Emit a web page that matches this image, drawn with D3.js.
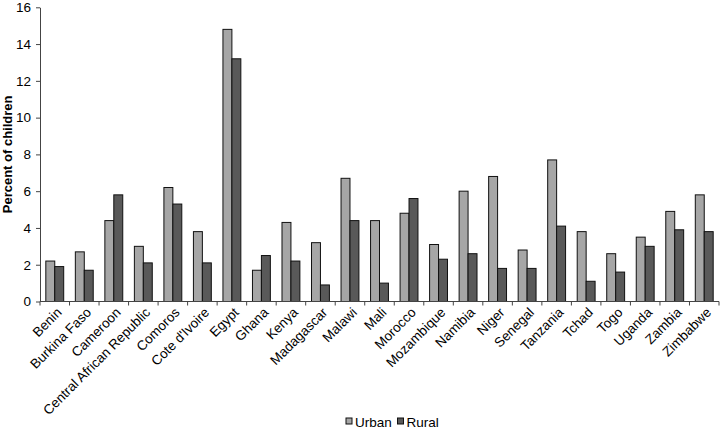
<!DOCTYPE html>
<html><head><meta charset="utf-8">
<script src="https://cdn.jsdelivr.net/npm/d3@7"></script>
<style>body{margin:0;background:#fff;} text{font-family:"Liberation Sans",Arial,sans-serif;}</style>
</head><body>
<svg id="c" width="720" height="430"></svg>
<script>
const categories = ["Benin","Burkina Faso","Cameroon","Central African Republic","Comoros","Cote d'Ivoire","Egypt","Ghana","Kenya","Madagascar","Malawi","Mali","Morocco","Mozambique","Namibia","Niger","Senegal","Tanzania","Tchad","Togo","Uganda","Zambia","Zimbabwe"];
const urban = [2.2,2.7,4.4,3.0,6.2,3.8,14.8,1.7,4.3,3.2,6.7,4.4,4.8,3.1,6.0,6.8,2.8,7.7,3.8,2.6,3.5,4.9,5.8];
const rural = [1.9,1.7,5.8,2.1,5.3,2.1,13.2,2.5,2.2,0.9,4.4,1.0,5.6,2.3,2.6,1.8,1.8,4.1,1.1,1.6,3.0,3.9,3.8];
const seriesNames = ["Urban","Rural"];
const yTicks = [0,2,4,6,8,10,12,14,16];

const svg = d3.select("#c");
const mLeft = 40, mRight = 719, mTop = 7.3, mBottom = 301.5;
const fs = 13.5;
const x = d3.scaleBand().domain(categories).range([mLeft, mRight]).paddingInner(0).paddingOuter(0);
const xs = d3.scaleBand().domain(seriesNames).range([0, x.bandwidth()]).paddingInner(0).paddingOuter(0.65);
const y = d3.scaleLinear().domain([0,16]).range([mBottom, mTop]);
const colors = {Urban:"#a6a6a6", Rural:"#595959"};

const data = categories.map((c,i)=>({c, vals:[{s:"Urban",v:urban[i]},{s:"Rural",v:rural[i]}]}));
const g = svg.append("g");
g.selectAll("g.cat").data(data).join("g").attr("class","cat")
  .attr("transform", d=>`translate(${x(d.c)},0)`)
  .selectAll("rect").data(d=>d.vals).join("rect")
  .attr("x", d=>xs(d.s)).attr("width", xs.bandwidth())
  .attr("y", d=>y(d.v)).attr("height", d=>y(0)-y(d.v))
  .attr("fill", d=>colors[d.s]).attr("stroke","#111").attr("stroke-width",1);

// y axis
const ya = svg.append("g").attr("transform",`translate(${mLeft},0)`)
  .call(d3.axisLeft(y).tickValues(yTicks).tickSize(4).tickSizeOuter(0));
ya.select(".domain").attr("stroke","#444");
ya.selectAll(".tick line").attr("stroke","#444");
ya.selectAll(".tick text").attr("font-size",fs).attr("fill","#000").attr("x",-9);

// x axis
const xa = svg.append("g").attr("transform",`translate(0,${mBottom})`);
xa.append("line").attr("x1",mLeft).attr("x2",mRight).attr("stroke","#444");
const tickPos = categories.map(c=>x(c)).concat([mRight]);
xa.selectAll("line.t").data(tickPos).join("line").attr("class","t")
  .attr("x1",d=>d).attr("x2",d=>d).attr("y1",0).attr("y2",4).attr("stroke","#444");
xa.selectAll("text").data(categories).join("text")
  .attr("transform", d=>`translate(${x(d)+x.bandwidth()/2+1},${5}) rotate(-45)`)
  .attr("text-anchor","end").attr("dy","0.71em").attr("font-size",fs).text(d=>d);

// y title
svg.append("text").attr("transform",`translate(12,${(mTop+mBottom)/2}) rotate(-90)`)
  .attr("text-anchor","middle").attr("font-size",13).attr("font-weight","bold").text("Percent of children");

// legend
const leg = svg.append("g");
const lx = [346, 397.5];
seriesNames.forEach((s,i)=>{
  leg.append("rect").attr("x",lx[i]).attr("y",418).attr("width",6).attr("height",6)
    .attr("fill",colors[s]).attr("stroke","#111");
  leg.append("text").attr("x",lx[i]+9).attr("y",426.5).attr("font-size",fs).text(s);
});
</script>
</body></html>
